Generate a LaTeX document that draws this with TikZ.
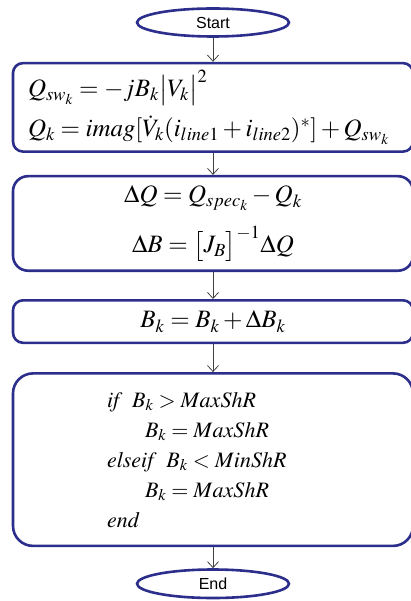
\documentclass[tikz,border=0pt]{standalone}
\usepackage{mathptmx}
\usepackage[no-math]{fontspec}
\newfontfamily\labelfont{Liberation Sans}
\definecolor{FlowNavy}{RGB}{44,46,140}
\usetikzlibrary{arrows.meta, shapes.geometric, positioning}

\begin{document}
\begin{tikzpicture}[x=1pt, y=1pt,
  terminal/.style={ellipse, draw=FlowNavy, line width=2.6pt,
    minimum width=152pt, minimum height=28pt, inner sep=0pt,
    font=\labelfont\fontsize{16}{18}\selectfont},
  procbox/.style={draw=FlowNavy, line width=2.6pt, fill=white,
    minimum width=400pt, inner sep=0pt},
  flow/.style={draw=black!75, line width=0.8pt,
    -{Straight Barb[length=6pt, width=11pt]}}
]
\useasboundingbox (0,0) rectangle (411,-601);

\node[terminal] (start) at (213,-22.5) {Start};

\node[procbox, rounded corners=10pt, minimum height=88.5pt, below=24pt of start] (qsw) {
\begin{minipage}{370pt}
\fontsize{25}{30}\selectfont
$Q_{sw_k} = -jB_k\bigl|V_k\bigr|^2$

\vspace{10pt}
$Q_k = imag[\dot{V}_k(i_{line1}+i_{line2})^*]+Q_{sw_k}$
\end{minipage}
};

\node[procbox, rounded corners=15pt, minimum height=94.5pt, below=22pt of qsw] (delta) {
\begin{minipage}{370pt}
\centering
\fontsize{25}{30}\selectfont
$\Delta Q = Q_{spec_k} - Q_k$

\vspace{14pt}
$\Delta B = \bigl[J_B\bigr]^{-1}\Delta Q$
\end{minipage}
};

\node[procbox, rounded corners=10pt, minimum height=42.5pt, below=27pt of delta] (update) {
\fontsize{25}{30}\selectfont
$B_k = B_k + \Delta B_k$
};

\node[procbox, rounded corners=20pt, minimum height=172.5pt, below=28pt of update] (limit) {
\begin{minipage}{370pt}
\fontsize{22}{30}\selectfont
\hspace*{79pt}$\mathit{if}\;\; B_k > MaxShR$\par
\hspace*{117pt}$B_k = MaxShR$\par
\hspace*{79pt}$\mathit{elseif}\;\; B_k < MinShR$\par
\hspace*{117pt}$B_k = MaxShR$\par
\hspace*{79pt}$\mathit{end}$
\end{minipage}
};

\node[terminal, minimum height=28.5pt, below=21pt of limit] (stop) {End};

% connectors
\draw[flow] (start) -- (qsw);
\draw[flow] (qsw) -- (delta);
\draw[flow] (delta) -- (update);
\draw[flow] (update) -- (limit);
\draw[flow] (limit) -- (stop);
\end{tikzpicture}
\end{document}
